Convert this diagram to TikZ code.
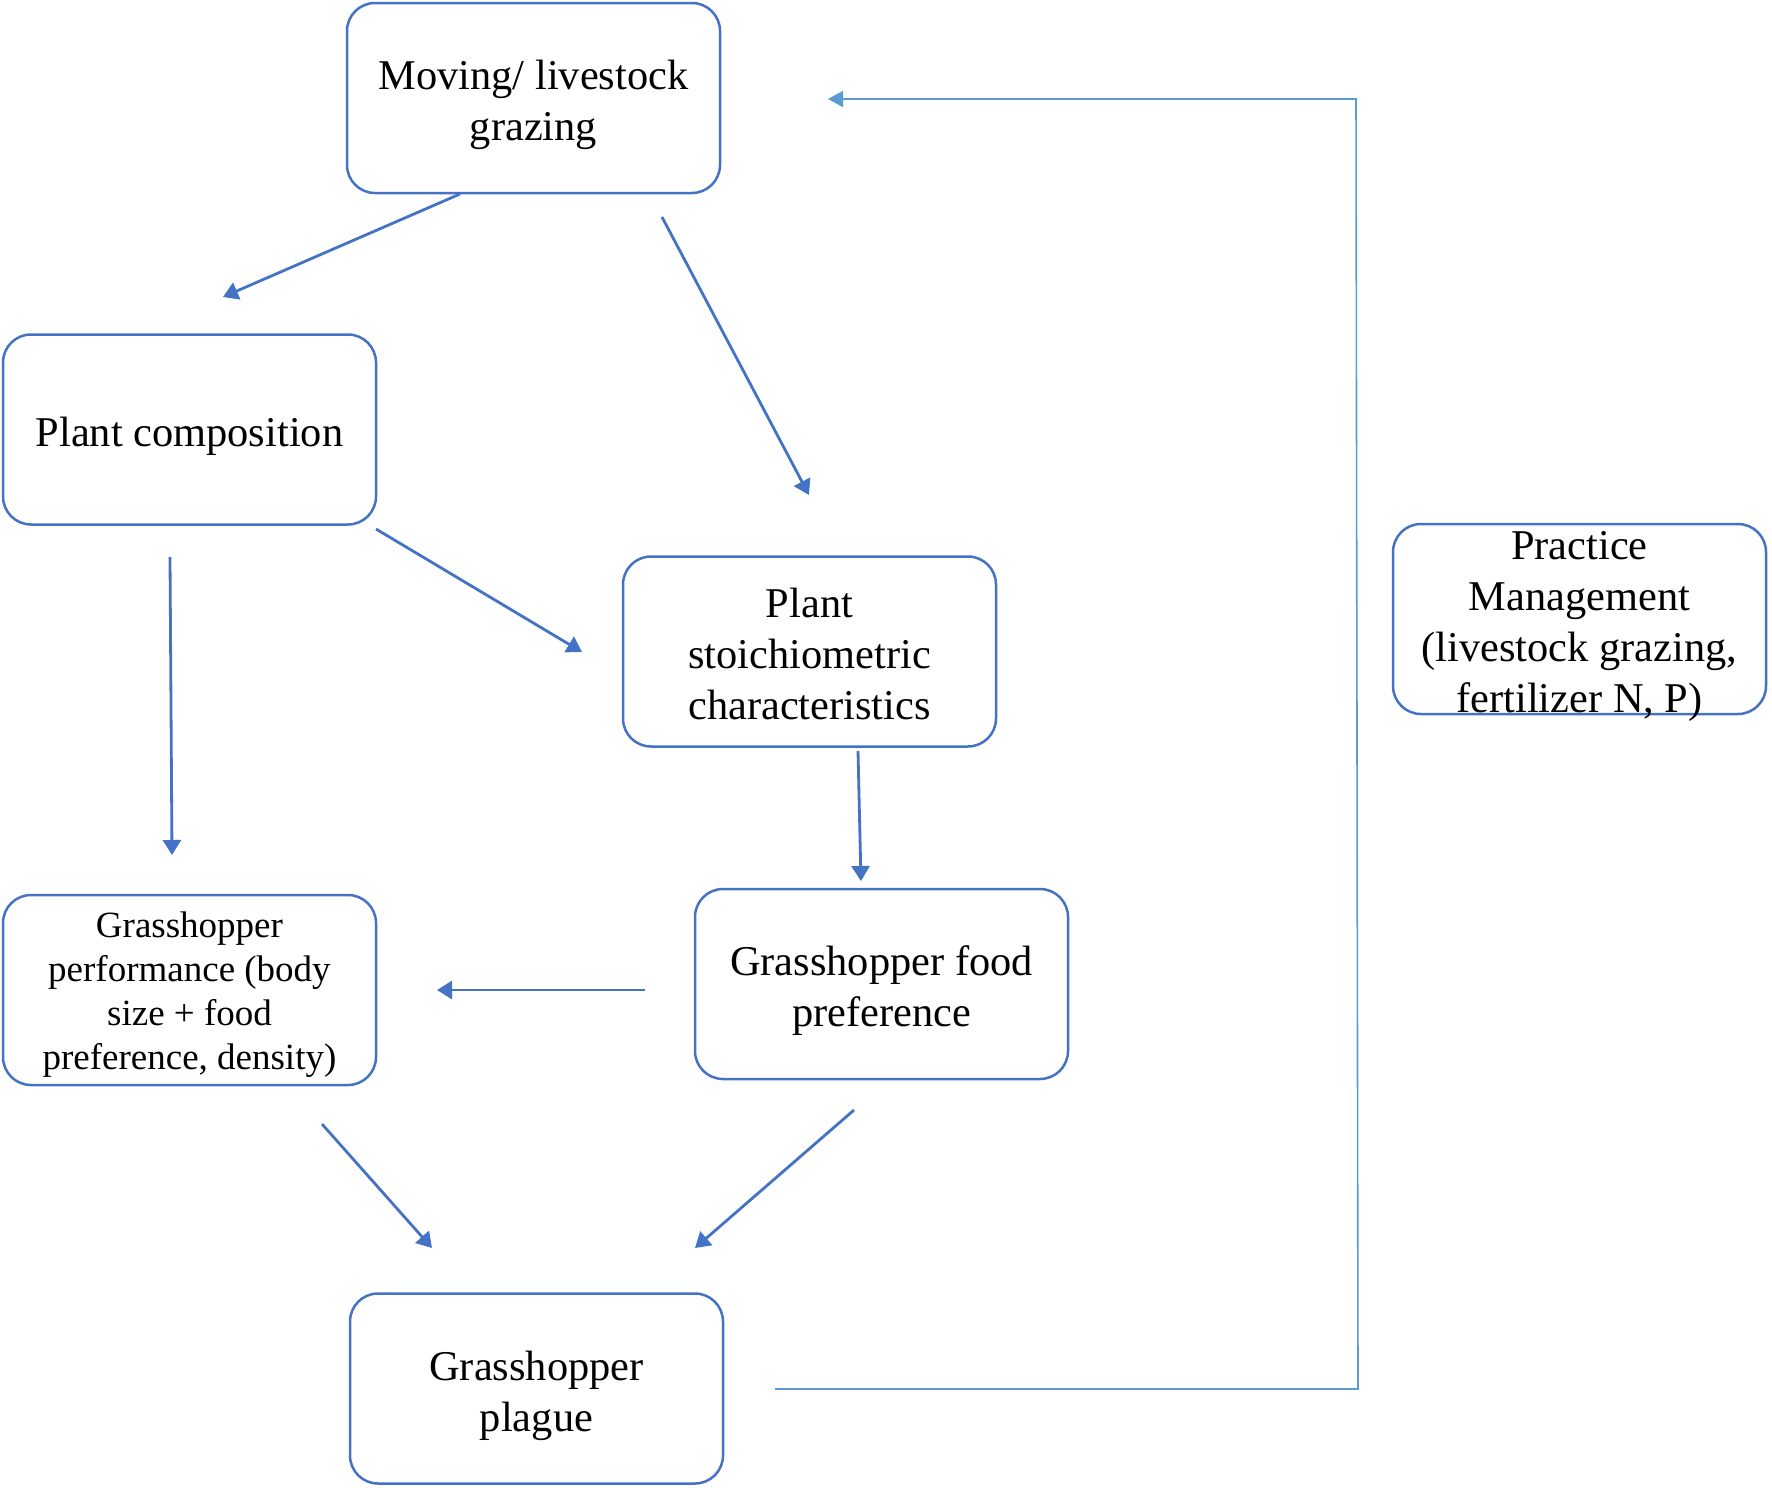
\documentclass[tikz,border=0pt]{standalone}
\usepackage{fontspec}
\setmainfont{Liberation Serif}
\usetikzlibrary{arrows.meta}
\definecolor{boxblue}{HTML}{4472C4}
\definecolor{fbblue}{HTML}{5B9BD5}
\begin{document}
\begin{tikzpicture}[x=0.5pt,y=-0.5pt,
  box/.style={draw=boxblue, line width=1.25pt, rounded corners=14pt, fill=white,
    minimum width=186.5pt, minimum height=95pt, inner sep=0pt},
  lbl/.style={align=center, inner sep=0pt, yshift=-3.5pt,
    font=\fontsize{21.2}{25.5}\selectfont},
  smalllbl/.style={lbl, yshift=1pt, font=\fontsize{18.5}{22}\selectfont},
  arr/.style={draw=boxblue, line width=1.4pt, -{Triangle[length=7.5pt,width=9pt]}},
  fb/.style={draw=fbblue, line width=0.8pt}]
\useasboundingbox (0,0) rectangle (1772,1488);
\node[box, label={[lbl]center:{Moving/ livestock\\grazing}}] (mov) at (533.5,98) {};
\node[box, label={[lbl]center:{Plant composition}}] (pc) at (189.5,429.5) {};
\node[box, label={[lbl, yshift=2.2pt]center:{Plant\\stoichiometric\\characteristics}}] (st) at (809.5,651.5) {};
\node[box, label={[smalllbl]center:{Grasshopper\\performance (body\\size + food\\preference, density)}}] (perf) at (189.5,990) {};
\node[box, label={[lbl]center:{Grasshopper food\\preference}}] (food) at (881.5,984) {};
\node[box, label={[lbl]center:{Grasshopper\\plague}}] (pl) at (536.5,1388.5) {};
\node[box, label={[lbl]center:{Practice\\Management\\(livestock grazing,\\fertilizer N, P)}}] (pm) at (1579.5,619) {};
% arrow endpoints
\coordinate (a1s) at (460,194); \coordinate (a1e) at (223,297);
\coordinate (a2s) at (662,217); \coordinate (a2e) at (809,495);
\coordinate (a3s) at (376,529); \coordinate (a3e) at (582,652);
\coordinate (a4s) at (170,557); \coordinate (a4e) at (172,855);
\coordinate (a5s) at (858,751); \coordinate (a5e) at (861,881);
\coordinate (a6s) at (645,990); \coordinate (a6e) at (437,990);
\coordinate (a7s) at (322,1124); \coordinate (a7e) at (432,1248);
\coordinate (a8s) at (854,1110); \coordinate (a8e) at (695,1248);
\coordinate (f1) at (775,1389); \coordinate (f2) at (1358,1389);
\coordinate (f3) at (1356,99); \coordinate (f4) at (828,99);
\draw[arr] (a1s) -- (a1e);
\draw[arr] (a2s) -- (a2e);
\draw[arr] (a3s) -- (a3e);
\draw[arr] (a4s) -- (a4e);
\draw[arr] (a5s) -- (a5e);
\draw[arr] (a6s) -- (a6e);
\draw[arr] (a7s) -- (a7e);
\draw[arr] (a8s) -- (a8e);
\draw[fb, -{Triangle[length=7.5pt,width=8pt]}] (f1) -- (f2) -- (f3) -- (f4);
\end{tikzpicture}
\end{document}
